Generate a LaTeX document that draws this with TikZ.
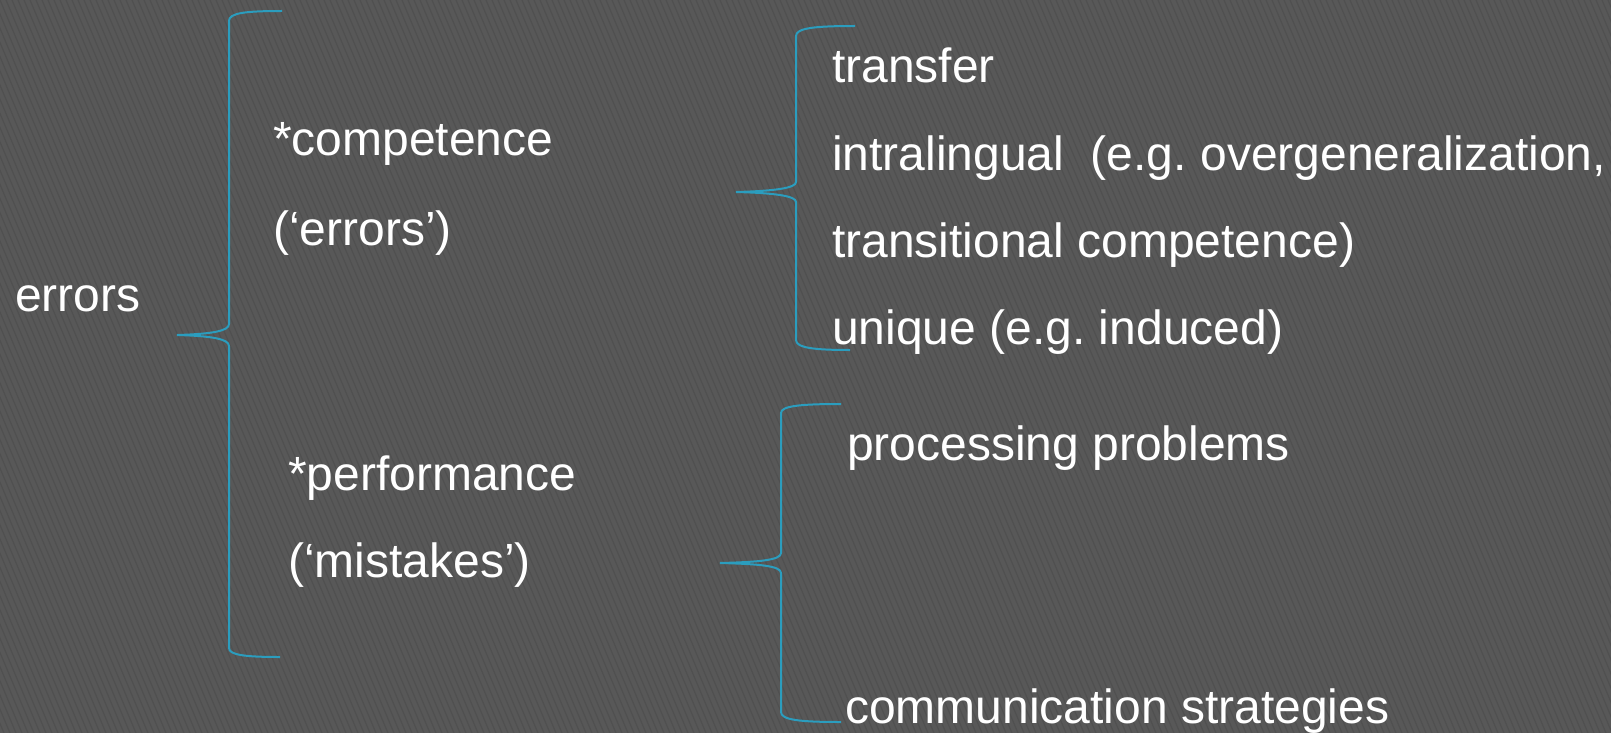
\documentclass[tikz,border=0pt]{standalone}
\usepackage{fontspec}
\setmainfont{Liberation Sans}
\frenchspacing
\definecolor{slide}{HTML}{585858}
\definecolor{stripe}{HTML}{505050}
\definecolor{bracecol}{HTML}{2B9DBE}
\tikzset{
  item/.style={anchor=base west, inner sep=0pt, text=white, font=\fontsize{48}{58}\selectfont},
  brace/.style={draw=bracecol, line width=2pt},
}

\begin{document}
\begin{tikzpicture}[x=1pt,y=-1pt]
  % slide background
  \fill[slide] (0,0) rectangle (1611,733);
  \begin{scope}
    \clip (0,0) rectangle (1611,733);
    \foreach \i in {-60,...,270}
      \draw[stripe, line width=1.2pt] (6*\i,0) -- (6*\i+310,733);
  \end{scope}
  \useasboundingbox (0,0) rectangle (1611,733);

  \node[item] (errors) at (15,311) {errors};
  \node[item] (competence) at (273,155) {*competence};
  \node[item] (compnote) at (273,245) {(‘errors’)};
  \node[item] (performance) at (288,490) {*performance};
  \node[item] (perfnote) at (288,577) {(‘mistakes’)};

  \node[item] (transfer) at (832,83) {transfer};
  \node[item] (intralingual) at (832,170) {intralingual~ (e.g. overgeneralization,};
  \node[item] (transitional) at (832,257) {transitional competence)};
  \node[item] (unique) at (832,344) {unique (e.g. induced)};

  \node[item] (processing) at (847,460) {processing problems};
  \node[item] (communication) at (845,723) {communication strategies};

  % braces
  \draw[brace] (282,11) .. controls (245,11) and (229,13) .. (229,21) -- (229,324)
    .. controls (229,331) and (212,334) .. (177,335)
    .. controls (212,336) and (229,339) .. (229,346) -- (229,648)
    .. controls (229,655) and (245,657) .. (280,657);
  \draw[brace] (855,26) .. controls (815,26) and (796,28) .. (796,36) -- (796,182)
    .. controls (796,188) and (775,191) .. (736,192)
    .. controls (775,193) and (796,196) .. (796,202) -- (796,340)
    .. controls (796,348) and (815,350) .. (850,350);
  \draw[brace] (841,404) .. controls (800,404) and (781,406) .. (781,413) -- (781,553)
    .. controls (781,560) and (760,562) .. (720,563)
    .. controls (760,564) and (781,566) .. (781,573) -- (781,712)
    .. controls (781,720) and (800,722) .. (841,722);
\end{tikzpicture}
\end{document}
